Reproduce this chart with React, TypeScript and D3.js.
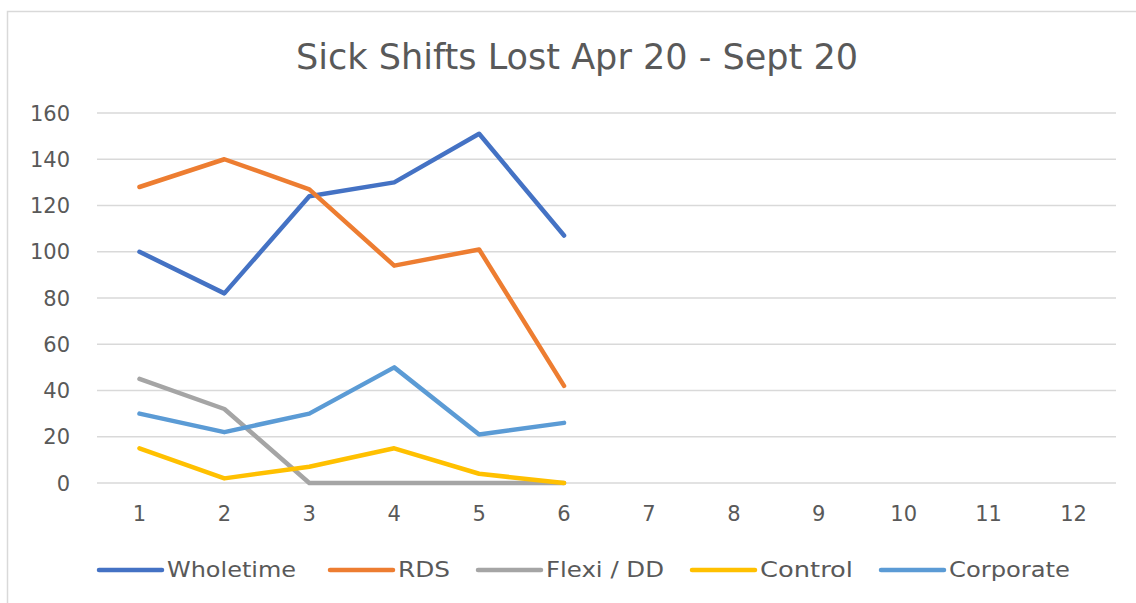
import * as React from "react";
import * as d3 from "d3";

const months = ["1", "2", "3", "4", "5", "6", "7", "8", "9", "10", "11", "12"];
const yTicks = [0, 20, 40, 60, 80, 100, 120, 140, 160];

const wholetime = [100, 82, 124, 130, 151, 107];
const rds = [128, 140, 127, 94, 101, 42];
const flexi = [45, 32, 0, 0, 0, 0];
const control = [15, 2, 7, 15, 4, 0];
const corporate = [30, 22, 30, 50, 21, 26];

const seriesNames = ["Wholetime", "RDS", "Flexi / DD", "Control", "Corporate"];
const seriesColors = ["#4472C4", "#ED7D31", "#A5A5A5", "#FFC000", "#5B9BD5"];
const seriesValues = [wholetime, rds, flexi, control, corporate];

const W = 1136;
const H = 603;
const font = "'Liberation Sans Narrow', 'DejaVu Sans Condensed', sans-serif";
const tickFont = "'DejaVu Sans', sans-serif";
const textColor = "#595959";

export default function App() {
  const x = d3.scaleBand<string>().domain(months).range([97, 1116]);
  const y = d3.scaleLinear().domain([0, 160]).range([483, 113]);

  const line = d3
    .line<number>()
    .x((_, i) => (x(months[i]) ?? 0) + x.bandwidth() / 2)
    .y((d) => y(d));

  // legend layout
  const legendX = [98, 329, 477, 691, 880];
  const legendTextW = [129, 52, 118, 93, 121];

  return (
    <svg
      width={W}
      height={H}
      style={{ position: "absolute", left: 0, top: 0, background: "#fff" }}
    >
      <rect x={0} y={0} width={W} height={H} fill="#fff" />
      {/* chart area border */}
      <path d={`M7.5,${H} V11.5 H${W}`} fill="none" stroke="#d9d9d9" strokeWidth={1.5} />

      <text
        x={296}
        y={69}
        textLength={562}
        lengthAdjust="spacingAndGlyphs"
        fontFamily={font}
        fontSize={35}
        fill={textColor}
      >
        Sick Shifts Lost Apr 20 - Sept 20
      </text>

      {yTicks.map((t) => (
        <g key={t}>
          <line
            x1={97}
            x2={1116}
            y1={y(t)}
            y2={y(t)}
            stroke="#d9d9d9"
            strokeWidth={1.5}
          />
          <text
            x={70}
            y={y(t)}
            dy="0.36em"
            textAnchor="end"
            fontFamily={tickFont}
            fontSize={21}
            fill={textColor}
          >
            {t}
          </text>
        </g>
      ))}

      {months.map((m) => (
        <text
          key={m}
          x={(x(m) ?? 0) + x.bandwidth() / 2}
          y={513}
          dy="0.36em"
          textAnchor="middle"
          fontFamily={tickFont}
          fontSize={21}
          fill={textColor}
        >
          {m}
        </text>
      ))}

      {seriesValues.map((vals, i) => (
        <path
          key={seriesNames[i]}
          d={line(vals) ?? ""}
          fill="none"
          stroke={seriesColors[i]}
          strokeWidth={4.5}
          strokeLinejoin="round"
          strokeLinecap="round"
        />
      ))}

      {seriesNames.map((name, i) => (
        <g key={name} transform={`translate(${legendX[i]},570)`}>
          <line x1={1} x2={64} y1={0} y2={0} stroke={seriesColors[i]} strokeWidth={4.5} strokeLinecap="round" />
          <text
            x={69}
            y={0}
            dy="0.35em"
            textLength={legendTextW[i]}
            lengthAdjust="spacingAndGlyphs"
            fontFamily={font}
            fontSize={21}
            fill={textColor}
          >
            {name}
          </text>
        </g>
      ))}
    </svg>
  );
}
